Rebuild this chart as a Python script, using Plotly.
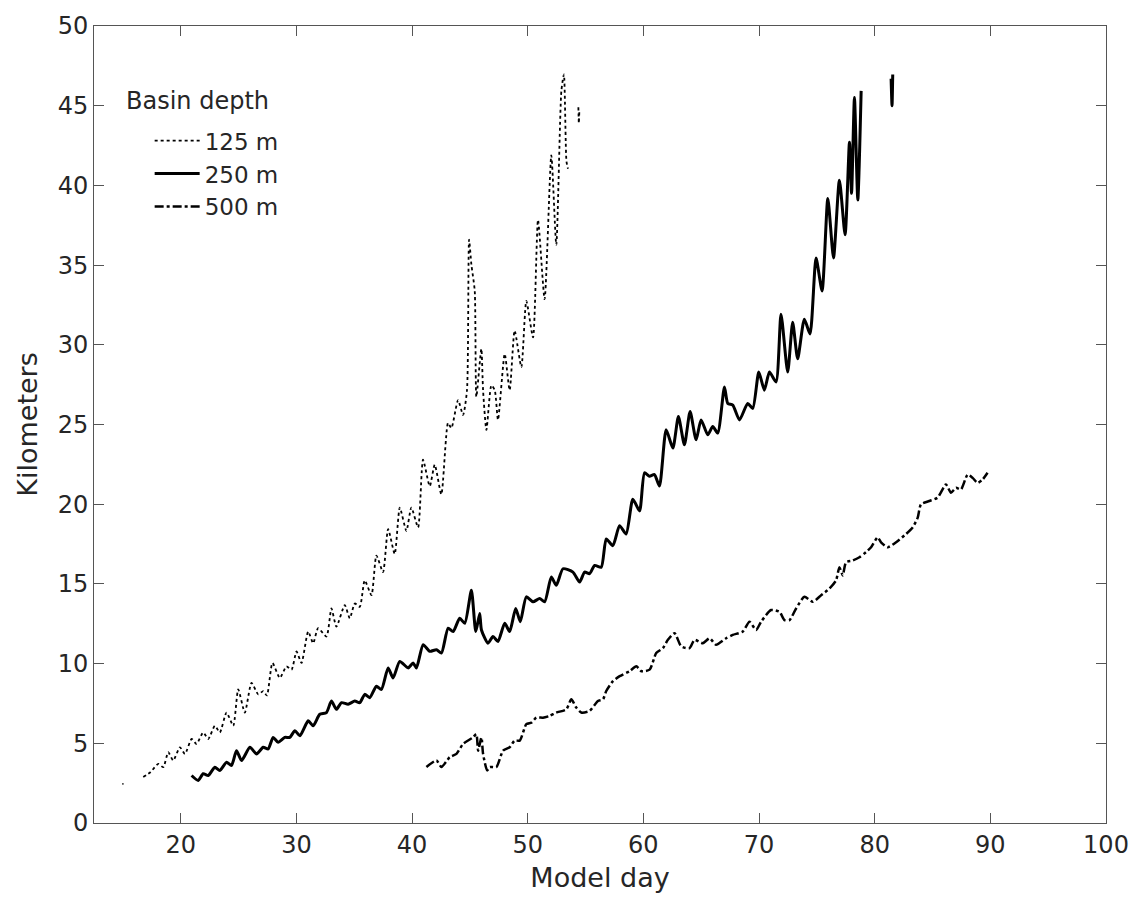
import plotly.graph_objects as go

# ---- data (Model day, Kilometers) ----
day_125_dot = [14.95, 15.05]
km_125_dot = [2.45, 2.45]

day_125 = [16.76, 17.4, 18.06, 18.49, 18.92, 19.35, 19.93, 20.36, 20.94, 21.37, 21.94, 22.38,
           22.95, 23.38, 23.96, 24.54, 24.97, 25.54, 26.12, 26.70, 27.13, 27.45, 27.93, 28.57,
           29.14, 29.58, 30.01, 30.44, 31.02, 31.45, 31.88, 32.60, 33.03, 33.46, 34.18, 34.62,
           35.05, 35.48, 35.91, 36.49, 36.92, 37.49, 37.93, 38.50, 38.94, 39.51, 39.94, 40.52,
           40.95, 41.53, 41.96, 42.53, 43.11, 43.40, 43.98, 44.41, 44.75, 44.93, 45.13, 45.42,
           45.56, 45.99, 46.14, 46.43, 46.86, 47.15, 47.43, 48.01, 48.44, 48.87, 49.45, 49.88,
           50.46, 50.89, 51.46, 52.04, 52.47, 52.91, 53.13, 53.35, 53.48]
km_125 = [2.88, 3.2, 3.71, 3.50, 4.44, 3.92, 4.75, 4.33, 5.27, 4.96, 5.68, 5.27,
          6.10, 5.68, 6.93, 6.10, 8.38, 6.93, 8.79, 8.07, 8.27, 8.0, 10.04, 9.10,
          9.83, 9.62, 10.76, 10.04, 12.01, 11.28, 12.22, 11.70, 13.46, 12.32, 13.67, 12.84,
          13.77, 13.56, 15.22, 14.29, 16.78, 15.74, 18.44, 16.88, 19.79, 18.33, 19.79, 18.54,
          22.79, 21.13, 22.48, 20.62, 25.10, 24.77, 26.53, 25.60, 27.15, 36.59, 35.03, 33.38,
          26.74, 29.75, 27.15, 24.66, 27.46, 27.15, 25.29, 29.43, 27.15, 30.89, 28.61, 32.75,
          30.47, 37.84, 32.86, 41.88, 36.28, 45.93, 46.96, 41.5, 41.05]

day_125_end = [54.38, 54.42, 54.46]
km_125_end = [44.9, 43.9, 44.6]

day_250 = [20.94, 21.51, 21.94, 22.38, 22.95, 23.38, 23.96, 24.39, 24.82, 25.26, 25.98, 26.55,
           27.13, 27.56, 27.99, 28.42, 29.00, 29.43, 29.87, 30.30, 31.02, 31.45, 32.02, 32.60,
           33.03, 33.46, 33.90, 34.47, 35.05, 35.48, 35.91, 36.34, 36.92, 37.35, 37.93, 38.36,
           38.94, 39.66, 40.09, 40.38, 40.96, 41.53, 42.11, 42.54, 43.12, 43.55, 44.12, 44.56,
           45.13, 45.51, 45.85, 46.00, 46.57, 47.00, 47.43, 48.01, 48.44, 48.96, 49.36, 49.88,
           50.46, 51.03, 51.47, 52.04, 52.47, 53.05, 53.91, 54.49, 54.92, 55.35, 55.79, 56.36,
           56.79, 57.36, 57.94, 58.51, 59.09, 59.67, 60.10, 60.53, 60.96, 61.39, 61.97, 62.55,
           63.03, 63.55, 64.04, 64.56, 64.99, 65.57, 66.00, 66.43, 67.01, 67.30, 67.73, 68.31,
           69.02, 69.46, 69.98, 70.46, 70.90, 71.47, 71.90, 72.48, 72.91, 73.34, 73.92, 74.41,
           74.93, 75.45, 75.95, 76.44, 76.95, 77.44, 77.82, 78.00, 78.25, 78.54, 78.83]
km_250 = [2.98, 2.67, 3.09, 2.98, 3.50, 3.30, 3.81, 3.61, 4.54, 3.92, 4.75, 4.33,
          4.75, 4.65, 5.37, 5.06, 5.37, 5.37, 5.79, 5.47, 6.41, 6.10, 6.82, 6.93,
          7.65, 7.13, 7.55, 7.45, 7.65, 7.55, 8.07, 7.86, 8.58, 8.38, 9.73, 9.10,
          10.14, 9.73, 10.04, 9.73, 11.18, 10.77, 10.87, 10.66, 12.22, 12.01, 12.84, 12.53,
          14.60, 12.01, 13.15, 12.11, 11.28, 11.70, 11.39, 12.53, 12.01, 13.46, 12.63, 14.19,
          13.88, 14.08, 13.88, 15.43, 14.91, 15.95, 15.74, 15.12, 15.74, 15.64, 16.16, 16.05,
          17.82, 17.40, 18.65, 18.13, 20.31, 19.58, 21.97, 21.76, 21.86, 21.14, 24.67, 23.52,
          25.50, 23.73, 25.81, 24.04, 25.29, 24.35, 24.87, 24.46, 27.36, 26.32, 26.22, 25.29,
          26.32, 26.01, 28.29, 27.15, 28.29, 27.67, 31.92, 28.29, 31.41, 29.12, 31.61, 30.68,
          35.45, 33.38, 39.18, 35.45, 40.33, 36.90, 42.71, 39.5, 45.51, 39.08, 45.93]

day_250_end = [81.42, 81.50, 81.56]
km_250_end = [46.7, 45.0, 46.96]

day_500 = [41.24, 42.11, 42.54, 43.26, 43.84, 44.41, 45.27, 45.56, 45.71, 46.00, 46.14, 46.49,
           46.72, 47.29, 47.87, 48.44, 48.87, 49.31, 49.88, 50.32, 50.75, 51.32, 51.90, 52.47,
           53.34, 53.77, 54.20, 54.63, 55.35, 56.07, 56.51, 56.79, 57.37, 57.95, 58.81, 59.39,
           59.82, 60.54, 61.11, 61.69, 62.12, 62.70, 63.27, 63.99, 64.42, 65.14, 65.72, 66.29,
           67.16, 67.73, 68.60, 69.17, 69.75, 70.18, 71.04, 71.77, 72.20, 72.63, 73.21, 73.92,
           74.65, 75.37, 76.08, 76.66, 76.95, 77.24, 77.52, 78.10, 78.68, 79.25, 79.69, 80.26,
           80.55, 81.12, 81.85, 82.71, 83.28, 83.72, 84.00, 84.72, 85.44, 86.16, 86.60, 87.03,
           87.46, 88.04, 88.47, 88.90, 89.33, 89.76]
km_500 = [3.51, 3.92, 3.51, 4.13, 4.34, 4.96, 5.37, 5.58, 4.54, 5.37, 4.34, 3.30,
          3.51, 3.51, 4.54, 4.75, 5.17, 5.17, 6.20, 6.30, 6.61, 6.61, 6.72, 6.93,
          7.13, 7.76, 7.24, 6.93, 7.03, 7.65, 7.76, 8.28, 8.90, 9.21, 9.52, 9.83,
          9.52, 9.62, 10.66, 10.97, 11.49, 11.91, 11.08, 10.97, 11.49, 11.28, 11.59, 11.18,
          11.59, 11.80, 12.01, 12.63, 12.11, 12.63, 13.36, 13.25, 12.73, 12.73, 13.46, 14.19,
          13.88, 14.29, 14.70, 15.22, 16.05, 15.53, 16.36, 16.47, 16.67, 16.99, 17.30, 17.92,
          17.61, 17.30, 17.61, 18.13, 18.54, 19.16, 19.99, 20.20, 20.41, 21.24, 20.72, 21.03,
          20.93, 21.86, 21.65, 21.34, 21.55, 21.97]

legend_names = ["125 m", "250 m", "500 m"]
legend_title = "Basin depth"
x_ticks = [20, 30, 40, 50, 60, 70, 80, 90, 100]
y_ticks = [0, 5, 10, 15, 20, 25, 30, 35, 40, 45, 50]

FONT = "DejaVu Sans"
INK = "#262626"

s125 = dict(color="black", width=1.8, dash="dot", shape="spline", smoothing=0.6)
s250 = dict(color="black", width=3, dash="solid", shape="spline", smoothing=0.6)
s500 = dict(color="black", width=2.5, dash="dashdot", shape="spline", smoothing=0.6)

fig = go.Figure()
fig.add_trace(go.Scatter(x=day_125, y=km_125, mode="lines", line=s125,
                         name=legend_names[0], legendrank=1))
fig.add_trace(go.Scatter(x=day_125_dot, y=km_125_dot, mode="lines", line=s125,
                         showlegend=False))
fig.add_trace(go.Scatter(x=day_125_end, y=km_125_end, mode="lines", line=s125,
                         showlegend=False))
fig.add_trace(go.Scatter(x=day_250, y=km_250, mode="lines", line=s250,
                         name=legend_names[1], legendrank=2))
fig.add_trace(go.Scatter(x=day_250_end, y=km_250_end, mode="lines", line=s250,
                         showlegend=False))
fig.add_trace(go.Scatter(x=day_500, y=km_500, mode="lines", line=s500,
                         name=legend_names[2], legendrank=3))

axis_common = dict(
    showgrid=False, zeroline=False, showline=True, linecolor="#555555", linewidth=1,
    mirror="ticks", ticks="inside", ticklen=10, tickwidth=1, tickcolor="#555555",
    tickfont=dict(family=FONT, size=24, color=INK),
)

fig.update_layout(
    width=1144, height=903,
    margin=dict(l=94, r=38, t=20, b=80),
    paper_bgcolor="white", plot_bgcolor="white",
    font=dict(family=FONT, color=INK),
    xaxis=dict(range=[12.5, 100], tickvals=x_ticks,
               title=dict(text="Model day", font=dict(family=FONT, size=27, color=INK), standoff=10),
               **axis_common),
    yaxis=dict(range=[0, 50], tickvals=y_ticks,
               title=dict(text="Kilometers", font=dict(family=FONT, size=27, color=INK), standoff=12),
               **axis_common),
    showlegend=True,
    legend=dict(x=0.055, y=0.883, xanchor="left", yanchor="top",
                bgcolor="rgba(0,0,0,0)", borderwidth=0,
                font=dict(family=FONT, size=23, color=INK),
                itemwidth=45, tracegroupgap=0),
    annotations=[dict(text=legend_title, xref="paper", yref="paper",
                      x=(124 - 94) / 1012, y=1 - (96 - 20) / 803,
                      xanchor="left", yanchor="middle", showarrow=False,
                      font=dict(family=FONT, size=24, color=INK))],
)

fig.write_html("out.html")
